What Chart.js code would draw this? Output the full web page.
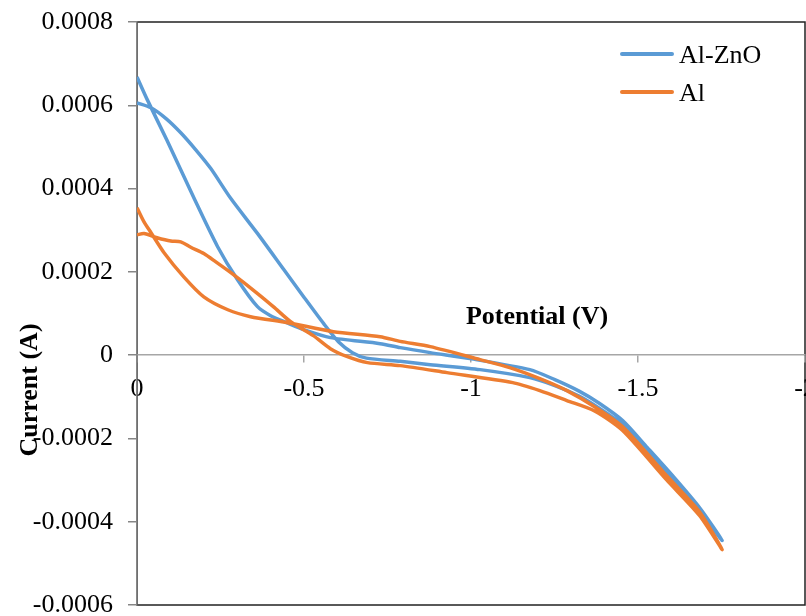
<!DOCTYPE html>
<html>
<head>
<meta charset="utf-8">
<script src="https://cdn.jsdelivr.net/npm/chart.js@4"></script>
<style>
  html, body { margin: 0; padding: 0; background: #fff; }
  /* the canvas is a bit larger than the window and shifted up, so the last x label
     and the bottom y label get cut at the edges, as in the reference */
  #wrap { width: 806px; height: 616px; overflow: hidden; }
  canvas { display: block; margin-top: -9px; }
</style>
</head>
<body>
<div id="wrap"><canvas id="cv" width="817" height="645"></canvas></div>
<script>
// Potential (V) and current (A) of each loop, forward sweep then return sweep
const alZnoV = [0, -0.042, -0.087, -0.131, -0.176, -0.221, -0.281, -0.360, -0.440, -0.501, -0.559, -0.603,
  -0.645, -0.687, -0.788, -0.878, -1.027, -1.176, -1.251, -1.325, -1.385, -1.454, -1.528, -1.603, -1.684, -1.752,
  -1.684, -1.603, -1.528, -1.454, -1.385, -1.325, -1.251, -1.176, -0.997, -0.878, -0.788, -0.728, -0.579, -0.499,
  -0.450, -0.400, -0.360, -0.301, -0.241, -0.173, -0.089, -0.031, 0];
const alZnoI = [0.000606, 0.000594, 0.000568, 0.000534, 0.000493, 0.000448, 0.000376, 0.000293, 0.000205,
  0.000138, 0.0000756, 0.0000324, 0.000006, -0.0000072, -0.0000149, -0.0000228, -0.0000348, -0.000054,
  -0.0000732, -0.0000989, -0.000128, -0.000167, -0.000226, -0.000299, -0.000376, -0.000445,
  -0.000366, -0.000289, -0.000222, -0.000157, -0.000116, -0.0000869, -0.0000588, -0.0000348, -0.0000084,
  0.000006, 0.000018, 0.0000276, 0.000042, 0.0000612, 0.0000773, 0.0000948, 0.000117, 0.000181,
  0.000261, 0.000373, 0.000517, 0.000613, 0.000668];

const alV = [0, -0.021, -0.060, -0.101, -0.131, -0.161, -0.200, -0.236, -0.281, -0.361, -0.409, -0.460,
  -0.528, -0.579, -0.630, -0.690, -0.788, -0.928, -1.125, -1.206, -1.287, -1.370, -1.454, -1.585,
  -1.684, -1.752,
  -1.684, -1.585, -1.454, -1.370, -1.287, -1.206, -1.116, -1.027, -0.878, -0.788, -0.728, -0.588,
  -0.451, -0.340, -0.272, -0.200, -0.140, -0.081, -0.042, -0.021, 0];
const alI = [0.000289, 0.000292, 0.000282, 0.000274, 0.000272, 0.000259, 0.000244, 0.000224, 0.000198,
  0.000148, 0.000116, 0.0000804, 0.0000468, 0.0000156, -0.0000036, -0.000018, -0.0000252, -0.000042,
  -0.000066, -0.0000852, -0.000109, -0.000134, -0.000181, -0.000299, -0.000385, -0.000467,
  -0.000376, -0.000289, -0.000172, -0.000124, -0.0000852, -0.0000564, -0.0000300, -0.0000108,
  0.0000204, 0.0000331, 0.0000444, 0.0000564, 0.000078, 0.0000924, 0.000109, 0.00014, 0.000188,
  0.000246, 0.000294, 0.00032, 0.000354];

const seriesNames = ['Al-ZnO', 'Al'];

const xTicks = [-2, -1.5, -1, -0.5, 0];
const xTickLabels = ['-2', '-1.5', '-1', '-0.5', '0'];
const yTicks = [-0.0006, -0.0004, -0.0002, 0, 0.0002, 0.0004, 0.0006, 0.0008];
const yTickLabels = ['-0.0006', '-0.0004', '-0.0002', '0', '0.0002', '0.0004', '0.0006', '0.0008'];

const SERIF = "'Liberation Serif', 'Times New Roman', serif";
const tickFont = { family: SERIF, size: 26, lineHeight: 1.2 };
const SHIFT = 9; // canvas is moved up by this many pixels

function toPoints(xs, ys) {
  return xs.map((x, i) => ({ x, y: ys[i] }));
}

// white background, plot frame, axis titles and the legend inside the plot
const decorations = {
  id: 'decorations',
  beforeDraw(chart) {
    const { ctx, chartArea: a } = chart;
    ctx.save();
    ctx.fillStyle = '#fff';
    ctx.fillRect(0, 0, chart.width, chart.height);
    ctx.strokeStyle = '#222';
    ctx.lineWidth = 1.5;
    ctx.strokeRect(a.left, a.top, a.right - a.left, a.bottom - a.top);
    ctx.restore();
  },
  afterDraw(chart) {
    const ctx = chart.ctx;
    ctx.save();
    ctx.translate(0, SHIFT);
    ctx.fillStyle = '#000';
    ctx.font = 'bold 26px ' + SERIF;
    ctx.textAlign = 'center';
    ctx.textBaseline = 'middle';
    ctx.fillText('Potential (V)', 537, 317);

    ctx.save();
    ctx.translate(30, 390);
    ctx.rotate(-Math.PI / 2);
    ctx.fillText('Current (A)', 0, 0);
    ctx.restore();

    // legend
    ctx.font = '26px ' + SERIF;
    ctx.textAlign = 'left';
    chart.data.datasets.forEach((ds, i) => {
      const y = 54 + i * 38;
      ctx.strokeStyle = ds.borderColor;
      ctx.lineWidth = 4;
      ctx.lineCap = 'round';
      ctx.beginPath();
      ctx.moveTo(622, y);
      ctx.lineTo(672, y);
      ctx.stroke();
      ctx.fillStyle = '#000';
      ctx.fillText(ds.label, 679, y + 2);
    });
    ctx.restore();
  }
};

new Chart(document.getElementById('cv'), {
  type: 'scatter',
  data: {
    datasets: [
      {
        label: seriesNames[0],
        data: toPoints(alZnoV, alZnoI),
        borderColor: '#5B9BD5',
        backgroundColor: '#5B9BD5',
        order: 1
      },
      {
        label: seriesNames[1],
        data: toPoints(alV, alI),
        borderColor: '#ED7D31',
        backgroundColor: '#ED7D31',
        order: 0
      }
    ]
  },
  options: {
    responsive: false,
    animation: false,
    devicePixelRatio: 1,
    layout: { padding: { top: 31, right: 12, bottom: 31, left: 0 } },
    elements: {
      point: { radius: 0, hoverRadius: 0 },
      line: { borderWidth: 3.5, tension: 0.25, fill: false }
    },
    datasets: { scatter: { showLine: true } },
    plugins: {
      legend: { display: false },
      tooltip: { enabled: false }
    },
    scales: {
      x: {
        type: 'linear',
        min: -2,
        max: 0,
        reverse: true,
        position: { y: 0 },
        afterBuildTicks: s => { s.ticks = xTicks.map(v => ({ value: v })); },
        ticks: {
          callback: (v, i) => xTickLabels[i],
          font: tickFont,
          color: '#000',
          padding: 11,
          maxRotation: 0,
          autoSkip: false
        },
        grid: { drawOnChartArea: false, tickLength: 7, color: '#a6a6a6', lineWidth: 1.5 },
        border: { color: '#a6a6a6', width: 1.5 }
      },
      y: {
        type: 'linear',
        min: -0.0006,
        max: 0.0008,
        afterBuildTicks: s => { s.ticks = yTicks.map(v => ({ value: v })); },
        afterFit: s => { s.width = 137; },
        ticks: {
          callback: (v, i) => yTickLabels[i],
          font: tickFont,
          color: '#000',
          padding: 15
        },
        grid: { drawOnChartArea: false, tickLength: 9, color: '#868686', lineWidth: 1.5 },
        border: { color: '#868686', width: 1.5 }
      }
    }
  },
  plugins: [decorations]
});
</script>
</body>
</html>
